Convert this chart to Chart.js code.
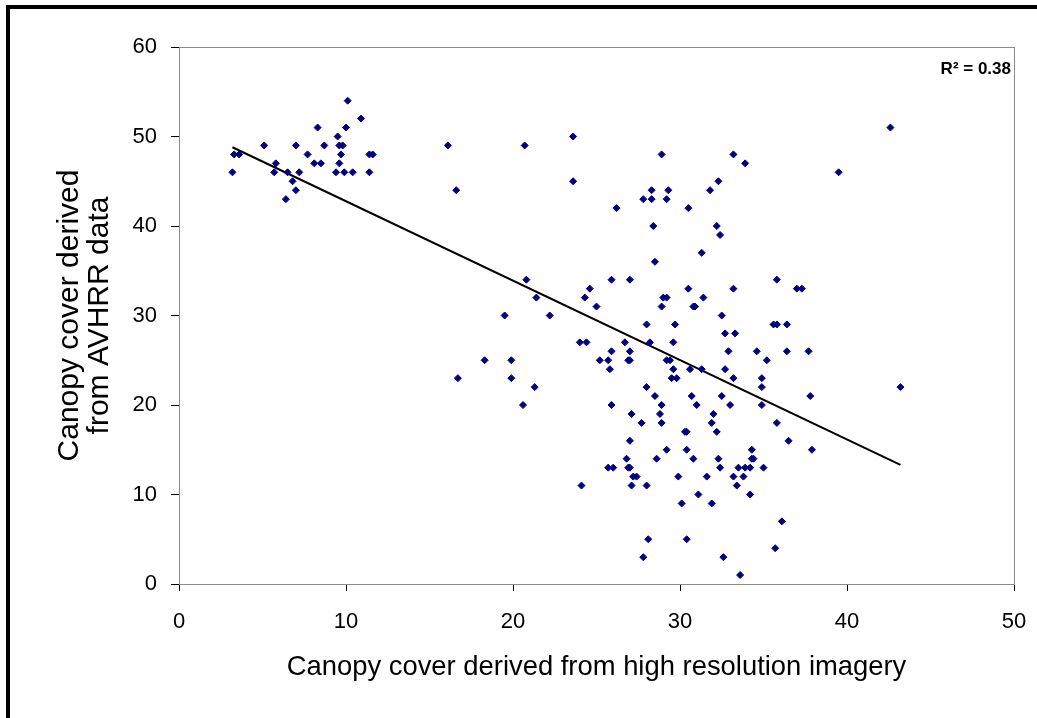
<!DOCTYPE html>
<html>
<head>
<meta charset="utf-8">
<script src="https://cdn.jsdelivr.net/npm/chart.js@4.4.0/dist/chart.umd.min.js"></script>
<style>
  html, body { margin: 0; padding: 0; background: #fff; }
  #frame { position: absolute; left: 6px; top: 5px; width: 1100px; height: 800px;
           border-left: 4px solid #000; border-top: 4px solid #000; }
  #chart { position: absolute; left: 0; top: 0; }
</style>
</head>
<body>
<div id="frame"></div>
<canvas id="chart" width="1037" height="718"></canvas>
<script>
// canopy cover, high resolution imagery (x) vs AVHRR (y)
const xValues = [
  10.1, 10.9, 8.3, 10.0, 9.5, 5.1, 7.0, 8.7, 9.6, 9.8, 3.3, 3.6, 7.7, 9.7, 11.4, 11.6,
  5.8, 8.1, 8.5, 9.6, 3.2, 5.7, 6.5, 7.2, 9.4, 9.9, 10.4, 11.4, 6.8, 7.0, 6.4,
  16.1, 20.7, 23.6, 16.6, 23.6, 20.8, 21.4, 19.5, 22.2, 18.3, 19.9, 16.7, 19.9, 21.3, 20.6,
  28.9, 28.3, 29.3, 27.8, 28.3, 29.2, 26.2, 30.5, 28.4, 28.5,
  33.2, 33.9, 32.3, 31.8, 32.2, 32.4, 31.3,
  25.9, 27.0, 24.6, 24.3, 25.0, 29.0, 29.2, 28.9, 30.5, 28.0, 29.7, 24.0, 24.4, 26.7, 28.2,
  29.6, 25.9, 27.0, 25.2, 25.7, 26.9, 27.0, 29.2, 29.4, 25.8, 29.6, 30.6, 29.5, 29.8, 28.0,
  28.5, 25.9, 28.9, 27.1, 28.8,
  35.8, 33.2, 37.0, 37.3, 31.4, 30.8, 30.9, 32.5, 35.6, 35.8, 36.4, 32.7, 33.3, 32.9, 34.6,
  36.4, 37.7, 35.2, 31.3, 32.7, 33.2, 34.9, 34.9, 30.7, 32.5, 37.8, 31.0, 33.0, 34.9, 32.0,
  27.7, 28.9, 30.3, 30.4, 27.0, 29.2, 30.4, 26.8, 28.6, 25.7, 26.0, 26.9, 27.0, 27.2, 27.4,
  29.9, 24.1, 27.1, 28.0, 30.1, 28.1, 30.4, 27.8,
  31.9, 35.8, 32.2, 36.5, 34.3, 30.8, 32.3, 34.3, 34.4, 32.4, 33.5, 33.9, 34.2, 35.0, 31.6,
  33.2, 33.8, 33.4, 31.1, 34.2, 31.9, 36.1, 35.7, 32.6, 33.6,
  42.6, 39.5, 43.2, 37.9
];
const yValues = [
  54, 52, 51, 51, 50, 49, 49, 49, 49, 49, 48, 48, 48, 48, 48, 48,
  47, 47, 47, 47, 46, 46, 46, 46, 46, 46, 46, 46, 45, 44, 43,
  49, 49, 50, 44, 45, 34, 32, 30, 30, 25, 25, 23, 23, 22, 20,
  48, 44, 44, 43, 43, 43, 42, 42, 40, 36,
  48, 47, 45, 44, 40, 39, 37,
  34, 34, 33, 32, 31, 32, 32, 31, 33, 29, 29, 27, 27, 27, 27,
  27, 26, 26, 25, 25, 25, 25, 25, 25, 24, 24, 24, 23, 23, 22,
  21, 20, 20, 19, 19,
  34, 33, 33, 33, 32, 31, 31, 30, 29, 29, 29, 28, 28, 26, 26,
  26, 26, 25, 24, 24, 23, 23, 22, 21, 21, 21, 20, 20, 20, 19,
  18, 18, 17, 17, 16, 15, 15, 14, 14, 13, 13, 13, 13, 12, 12,
  12, 11, 11, 11, 9, 5, 5, 3,
  18, 18, 17, 16, 15, 14, 14, 14, 14, 13, 13, 13, 13, 13, 12,
  12, 12, 11, 10, 10, 9, 7, 4, 3, 1,
  51, 46, 22, 15
];
// fitted line, end points
const trendX = [3.2, 43.2];
const trendY = [48.8, 13.3];
const xTicks = [0, 10, 20, 30, 40, 50];
const yTicks = [0, 10, 20, 30, 40, 50, 60];
const rSquared = 'R\u00b2 = 0.38';

const points = xValues.map((x, i) => ({ x: x, y: yValues[i] }));
const trend = trendX.map((x, i) => ({ x: x, y: trendY[i] }));

const plotFrame = {
  id: 'plotFrame',
  beforeDatasetsDraw(chart) {
    const { ctx, chartArea: a } = chart;
    ctx.save();
    ctx.strokeStyle = '#8c8c8c';
    ctx.lineWidth = 1;
    ctx.strokeRect(a.left + 0.5, a.top + 0.5, a.right - a.left, a.bottom - a.top);
    ctx.restore();
  },
  afterDraw(chart) {
    const { ctx, chartArea: a } = chart;
    ctx.save();
    ctx.font = 'bold 17px "Liberation Sans", Arial, sans-serif';
    ctx.fillStyle = '#000';
    ctx.textAlign = 'right';
    ctx.textBaseline = 'middle';
    ctx.fillText(rSquared, a.right - 3, a.top + 22);
    ctx.restore();
  }
};

const font = '"Liberation Sans", Arial, sans-serif';

new Chart(document.getElementById('chart'), {
  type: 'scatter',
  data: {
    datasets: [{
      data: points,
      pointStyle: 'rectRot',
      pointRadius: 3.5,
      borderWidth: 1,
      backgroundColor: '#000080',
      borderColor: '#000080'
    }, {
      type: 'line',
      data: trend,
      borderColor: '#000',
      borderWidth: 2,
      pointRadius: 0,
      fill: false
    }]
  },
  options: {
    responsive: false,
    animation: false,
    layout: { padding: { left: 0, top: 47, right: 23, bottom: 0 } },
    plugins: { legend: { display: false }, tooltip: { enabled: false } },
    scales: {
      x: {
        type: 'linear', min: 0, max: 50,
        afterBuildTicks: s => { s.ticks = xTicks.map(v => ({ value: v })); },
        afterFit: s => { s.height = 134; s.paddingLeft = 0; s.paddingRight = 0; },
        grid: { drawOnChartArea: false, drawTicks: true, tickLength: 7, color: '#000' },
        border: { color: '#404040', width: 1 },
        ticks: { color: '#000', padding: 18, font: { family: font, size: 22 } },
        title: {
          display: true, text: 'Canopy cover derived from high resolution imagery',
          color: '#000', font: { family: font, size: 27.4, lineHeight: 1 },
          padding: { top: 0, bottom: 37 }
        }
      },
      y: {
        type: 'linear', min: 0, max: 60,
        afterBuildTicks: s => { s.ticks = yTicks.map(v => ({ value: v })); },
        afterFit: s => { s.width = 179; s.paddingTop = 0; s.paddingBottom = 0; },
        grid: { drawOnChartArea: false, drawTicks: true, tickLength: 8, color: '#000' },
        border: { color: '#404040', width: 1 },
        ticks: { color: '#000', padding: 14, font: { family: font, size: 22 } },
        title: {
          display: true, text: ['Canopy cover derived', 'from AVHRR data'],
          color: '#000', font: { family: font, size: 30, lineHeight: 1 },
          padding: { top: 55, bottom: 0 }
        }
      }
    }
  },
  plugins: [plotFrame]
});
</script>
</body>
</html>
